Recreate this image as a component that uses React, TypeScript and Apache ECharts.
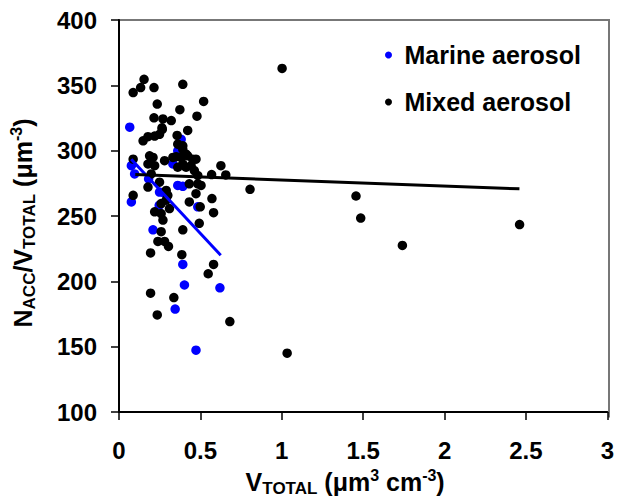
import React, { useEffect, useRef } from "react";
import * as echarts from "echarts";

const xTicks = [0, 0.5, 1, 1.5, 2, 2.5, 3];
const yTicks = [100, 150, 200, 250, 300, 350, 400];

const marineX = [0.066, 0.382, 0.361, 0.076, 0.096, 0.182, 0.331, 0.361, 0.392, 0.076, 0.249, 0.278, 0.247, 0.484, 0.209, 0.392, 0.402, 0.620, 0.345, 0.473];
const marineY = [318.0, 308.7, 299.9, 288.5, 282.2, 278.4, 289.8, 273.4, 272.7, 260.8, 268.3, 267.6, 258.2, 257.0, 239.4, 212.9, 197.2, 195.0, 178.8, 147.3];

const mixedX = [
  0.087, 0.133, 0.154, 0.215, 0.392, 0.235, 0.374, 0.520, 0.479, 0.215,
  0.270, 0.321, 0.264, 0.422, 0.357, 0.148, 0.178, 0.219, 0.249, 0.266,
  0.392, 0.087, 0.188, 0.209, 0.178, 0.219, 0.280, 0.331, 0.351, 0.382,
  0.422, 0.453, 0.473, 0.392, 0.412, 0.443, 0.463, 0.484, 0.626, 0.656,
  0.569, 0.198, 0.249, 0.178, 0.432, 0.484, 0.504, 0.473, 0.805, 0.087,
  0.290, 0.300, 0.259, 0.310, 0.432, 0.499, 0.571, 0.581, 0.219, 0.259,
  0.270, 0.259, 0.392, 0.493, 0.239, 0.280, 0.304, 0.194, 0.386, 0.581,
  0.548, 0.194, 0.337, 0.235, 0.681, 1.002, 1.033, 1.456, 1.485, 1.741,
  2.461, 0.361, 0.412, 0.392, 0.361, 0.290
];
const mixedY = [
  344.5, 348.3, 354.6, 348.3, 350.8, 335.7, 331.4, 337.7, 326.4, 325.1,
  324.3, 323.0, 317.5, 315.5, 311.7, 307.5, 310.7, 311.2, 312.5, 316.2,
  303.7, 293.5, 296.1, 294.8, 289.8, 288.5, 292.3, 294.8, 295.4, 294.8,
  296.1, 293.5, 293.5, 289.8, 287.3, 288.5, 284.8, 281.0, 288.5, 281.4,
  281.7, 282.2, 275.9, 272.1, 274.6, 274.6, 273.4, 267.1, 270.4, 265.8,
  269.6, 265.8, 259.5, 255.7, 260.8, 257.0, 263.3, 252.5, 253.2, 251.9,
  246.9, 238.0, 239.4, 244.4, 230.5, 230.5, 226.7, 221.7, 220.4, 212.9,
  205.8, 190.9, 187.6, 174.3, 169.2, 362.9, 145.0, 265.3, 248.4, 227.5,
  243.4, 305.0, 297.3, 301.0, 287.3, 262.1
];

const marineTrendX = [0.075, 0.625];
const marineTrendY = [293.5, 220.0];
const mixedTrendX = [0.1, 2.46];
const mixedTrendY = [281.7, 270.8];

const FONT = "'Liberation Sans', Arial, sans-serif";

const GRID = { left: 118, top: 20, width: 491, height: 397.5 };

export default function App() {
  const ref = useRef<HTMLDivElement>(null);
  useEffect(() => {
    if (!ref.current) return;
    const chart = echarts.init(ref.current, undefined, { renderer: "svg" });
    const zip = (xs: number[], ys: number[]) => xs.map((x, i) => [x, ys[i]]);
    const big = { fontSize: 25, fontWeight: "bold" as const, fontFamily: FONT, color: "#000", lineHeight: 30 };
    const sub = { fontSize: 17, fontWeight: "bold" as const, fontFamily: FONT, color: "#000", lineHeight: 22, verticalAlign: "bottom" as const };
    const sup = { fontSize: 16, fontWeight: "bold" as const, fontFamily: FONT, color: "#000", lineHeight: 18, verticalAlign: "top" as const };
    chart.setOption({
      animation: false,
      backgroundColor: "#fff",
      grid: { ...GRID },
      graphic: [
        {
          type: "polyline", silent: true, z: 0,
          shape: {
            points: [
              [GRID.left, GRID.top],
              [GRID.left + GRID.width, GRID.top],
              [GRID.left + GRID.width, GRID.top + GRID.height],
            ],
          },
          style: { stroke: "#777777", lineWidth: 2, fill: "none" },
        },
      ],
      legend: {
        orient: "vertical",
        left: 380, top: 36,
        itemWidth: 22, itemHeight: 7, itemGap: 19,
        data: ["Marine aerosol", "Mixed aerosol"],
        textStyle: { fontSize: 25, fontWeight: "bold", fontFamily: FONT, color: "#000", lineHeight: 28 },
      },
      xAxis: {
        type: "value", min: xTicks[0], max: xTicks[xTicks.length - 1], interval: 0.5,
        axisLine: { show: true, onZero: false, lineStyle: { color: "#000", width: 2 } },
        axisTick: { show: true, length: 8, lineStyle: { color: "#000", width: 1.5 } },
        splitLine: { show: false },
        axisLabel: { margin: 26, fontSize: 24, fontWeight: "bold", fontFamily: FONT, color: "#000" },
        name: "{b|V}{s|TOTAL}{b| (μm}{p|3}{b| cm}{p|-3}{b|)}",
        nameLocation: "middle", nameGap: 55,
        nameTextStyle: { padding: [0, 36, 0, 0], rich: { b: big, s: sub, p: sup } },
      },
      yAxis: {
        type: "value", min: yTicks[0], max: yTicks[yTicks.length - 1], interval: 50,
        axisLine: { show: true, onZero: false, lineStyle: { color: "#000", width: 2 } },
        axisTick: { show: true, length: 8, lineStyle: { color: "#000", width: 1.5 } },
        splitLine: { show: false },
        axisLabel: { margin: 22, fontSize: 24, fontWeight: "bold", fontFamily: FONT, color: "#000" },
        name: "{b|N}{s|ACC}{b|/V}{s|TOTAL}{b| (μm}{p|-3}{b|)}",
        nameLocation: "middle", nameGap: 81,
        nameTextStyle: { padding: [0, 14, 0, 0], rich: { b: big, s: sub, p: sup } },
      },
      series: [
        {
          name: "Marine aerosol", type: "scatter", symbol: "circle", symbolSize: 9.5,
          itemStyle: { color: "#0000ff", opacity: 1 },
          data: zip(marineX, marineY), z: 2,
        },
        {
          name: "Mixed aerosol", type: "scatter", symbol: "circle", symbolSize: 9.5,
          itemStyle: { color: "#000000", opacity: 1 },
          data: zip(mixedX, mixedY), z: 3,
        },
        {
          name: "Marine trend", type: "line", showSymbol: false, symbol: "none",
          lineStyle: { color: "#0000ff", width: 3 },
          data: zip(marineTrendX, marineTrendY), z: 4,
        },
        {
          name: "Mixed trend", type: "line", showSymbol: false, symbol: "none",
          lineStyle: { color: "#000000", width: 3 },
          data: zip(mixedTrendX, mixedTrendY), z: 4,
        },
      ],
    });
    return () => chart.dispose();
  }, []);
  return <div ref={ref} style={{ position: "fixed", left: 0, top: 0, width: 617, height: 502 }} />;
}
